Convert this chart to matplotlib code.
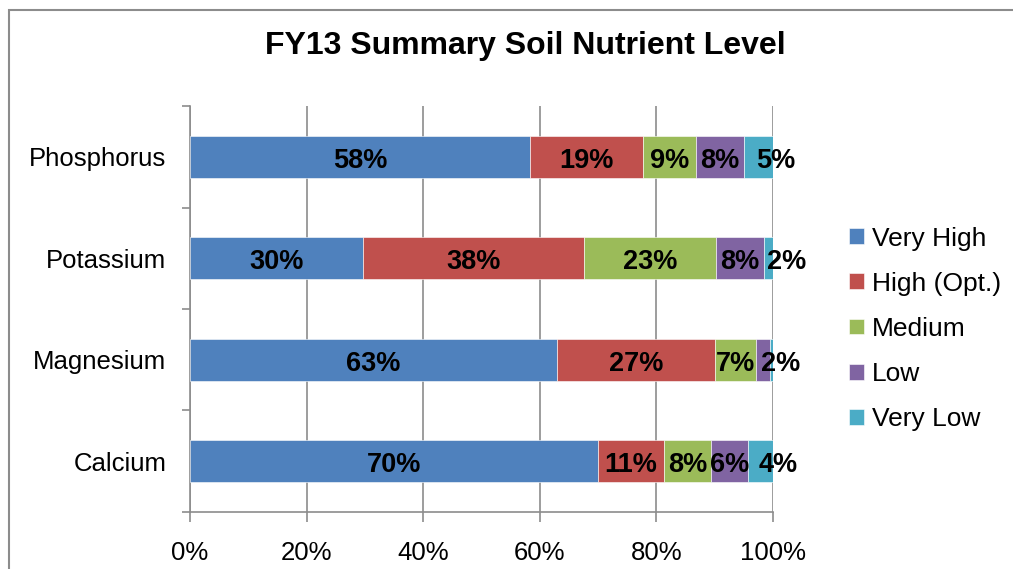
import numpy as np
import matplotlib
matplotlib.use('Agg')
import matplotlib.pyplot as plt
import matplotlib.patches as mpatches

plt.rcParams['font.family'] = ['Liberation Sans', 'DejaVu Sans']

# data (percent of samples), bottom row first
nutrients = ['Calcium', 'Magnesium', 'Potassium', 'Phosphorus']
levels = ['Very High', 'High (Opt.)', 'Medium', 'Low', 'Very Low']
very_high = [70.0, 63.0, 29.7, 58.3]
high_opt = [11.3, 27.0, 37.9, 19.4]
medium = [8.1, 7.1, 22.6, 9.1]
low = [6.3, 2.4, 8.3, 8.2]
very_low = [4.3, 0.5, 1.5, 5.0]
xticks = [0, 20, 40, 60, 80, 100]

colors = ['#4F81BD', '#C0504D', '#9BBB59', '#8064A2', '#4BACC6']
grid_c = '#8C8C8C'

fig = plt.figure(figsize=(10.13, 5.69), dpi=100)
ax = fig.add_axes([0.1876, 0.1002, 0.5755, 0.7135])

series = [very_high, high_opt, medium, low, very_low]
y = np.arange(len(nutrients))
left = np.zeros(len(nutrients))
handles = []
for vals, lab, c in zip(series, levels, colors):
    vals = np.array(vals)
    b = ax.barh(y, vals, left=left, height=0.41, color=c, label=lab,
                edgecolor='white', linewidth=0.4, zorder=3)
    handles.append(b)
    left = left + vals

# data labels: centred, the last labelled one of a row nudged right
data = np.array(series)  # levels x nutrients
for j in range(len(nutrients)):
    starts = np.concatenate([[0], np.cumsum(data[:, j])[:-1]])
    shown = [i for i in range(len(levels)) if data[i, j] >= 1]
    for i in shown:
        xc = starts[i] + data[i, j] / 2
        if i == shown[-1]:
            xc += 3
        ax.text(xc, y[j] - 0.04, f"{data[i, j]:.0f}%", ha='center', va='center',
                fontsize=19.5, fontweight='bold', color='black', zorder=5)

ax.set_xlim(0, 100)
ax.set_ylim(-0.5, len(nutrients) - 0.5)
ax.set_xticks(xticks)
ax.set_xticklabels([f"{t}%" for t in xticks])
ax.set_yticks(y)
ax.set_yticklabels(nutrients)
ax.set_yticks(np.arange(-0.5, len(nutrients)), minor=True)
ax.tick_params(axis='y', which='major', length=0, pad=17, labelsize=18.5)
ax.tick_params(axis='y', which='minor', length=6, width=1.2, color=grid_c, direction='out')
ax.tick_params(axis='x', length=7, width=1.2, color=grid_c, pad=14, labelsize=18.5)

ax.xaxis.grid(True, color=grid_c, linewidth=1.2, zorder=0)
ax.set_axisbelow(True)
for s in ['top', 'right']:
    ax.spines[s].set_visible(False)
for s in ['left', 'bottom']:
    ax.spines[s].set_color(grid_c)
    ax.spines[s].set_linewidth(1.2)

fig.text(0.519, 0.919, 'FY13 Summary Soil Nutrient Level', ha='center', va='center',
         fontsize=23, fontweight='bold')

fig.legend(handles=handles, labels=levels, loc='center left',
           bbox_to_anchor=(0.828, 0.422), frameon=False, fontsize=19,
           handlelength=0.55, handleheight=0.55, handletextpad=0.3,
           labelspacing=0.8, borderaxespad=0)

# chart border (right and bottom edges fall outside the picture)
fig.patches.append(mpatches.Rectangle((9 / 1013, -0.2), 1.2, 1.2 - 10 / 569,
                                      transform=fig.transFigure, fill=False,
                                      edgecolor='#8C8C8C', linewidth=1.5))

fig.savefig('out.png', dpi=100)
